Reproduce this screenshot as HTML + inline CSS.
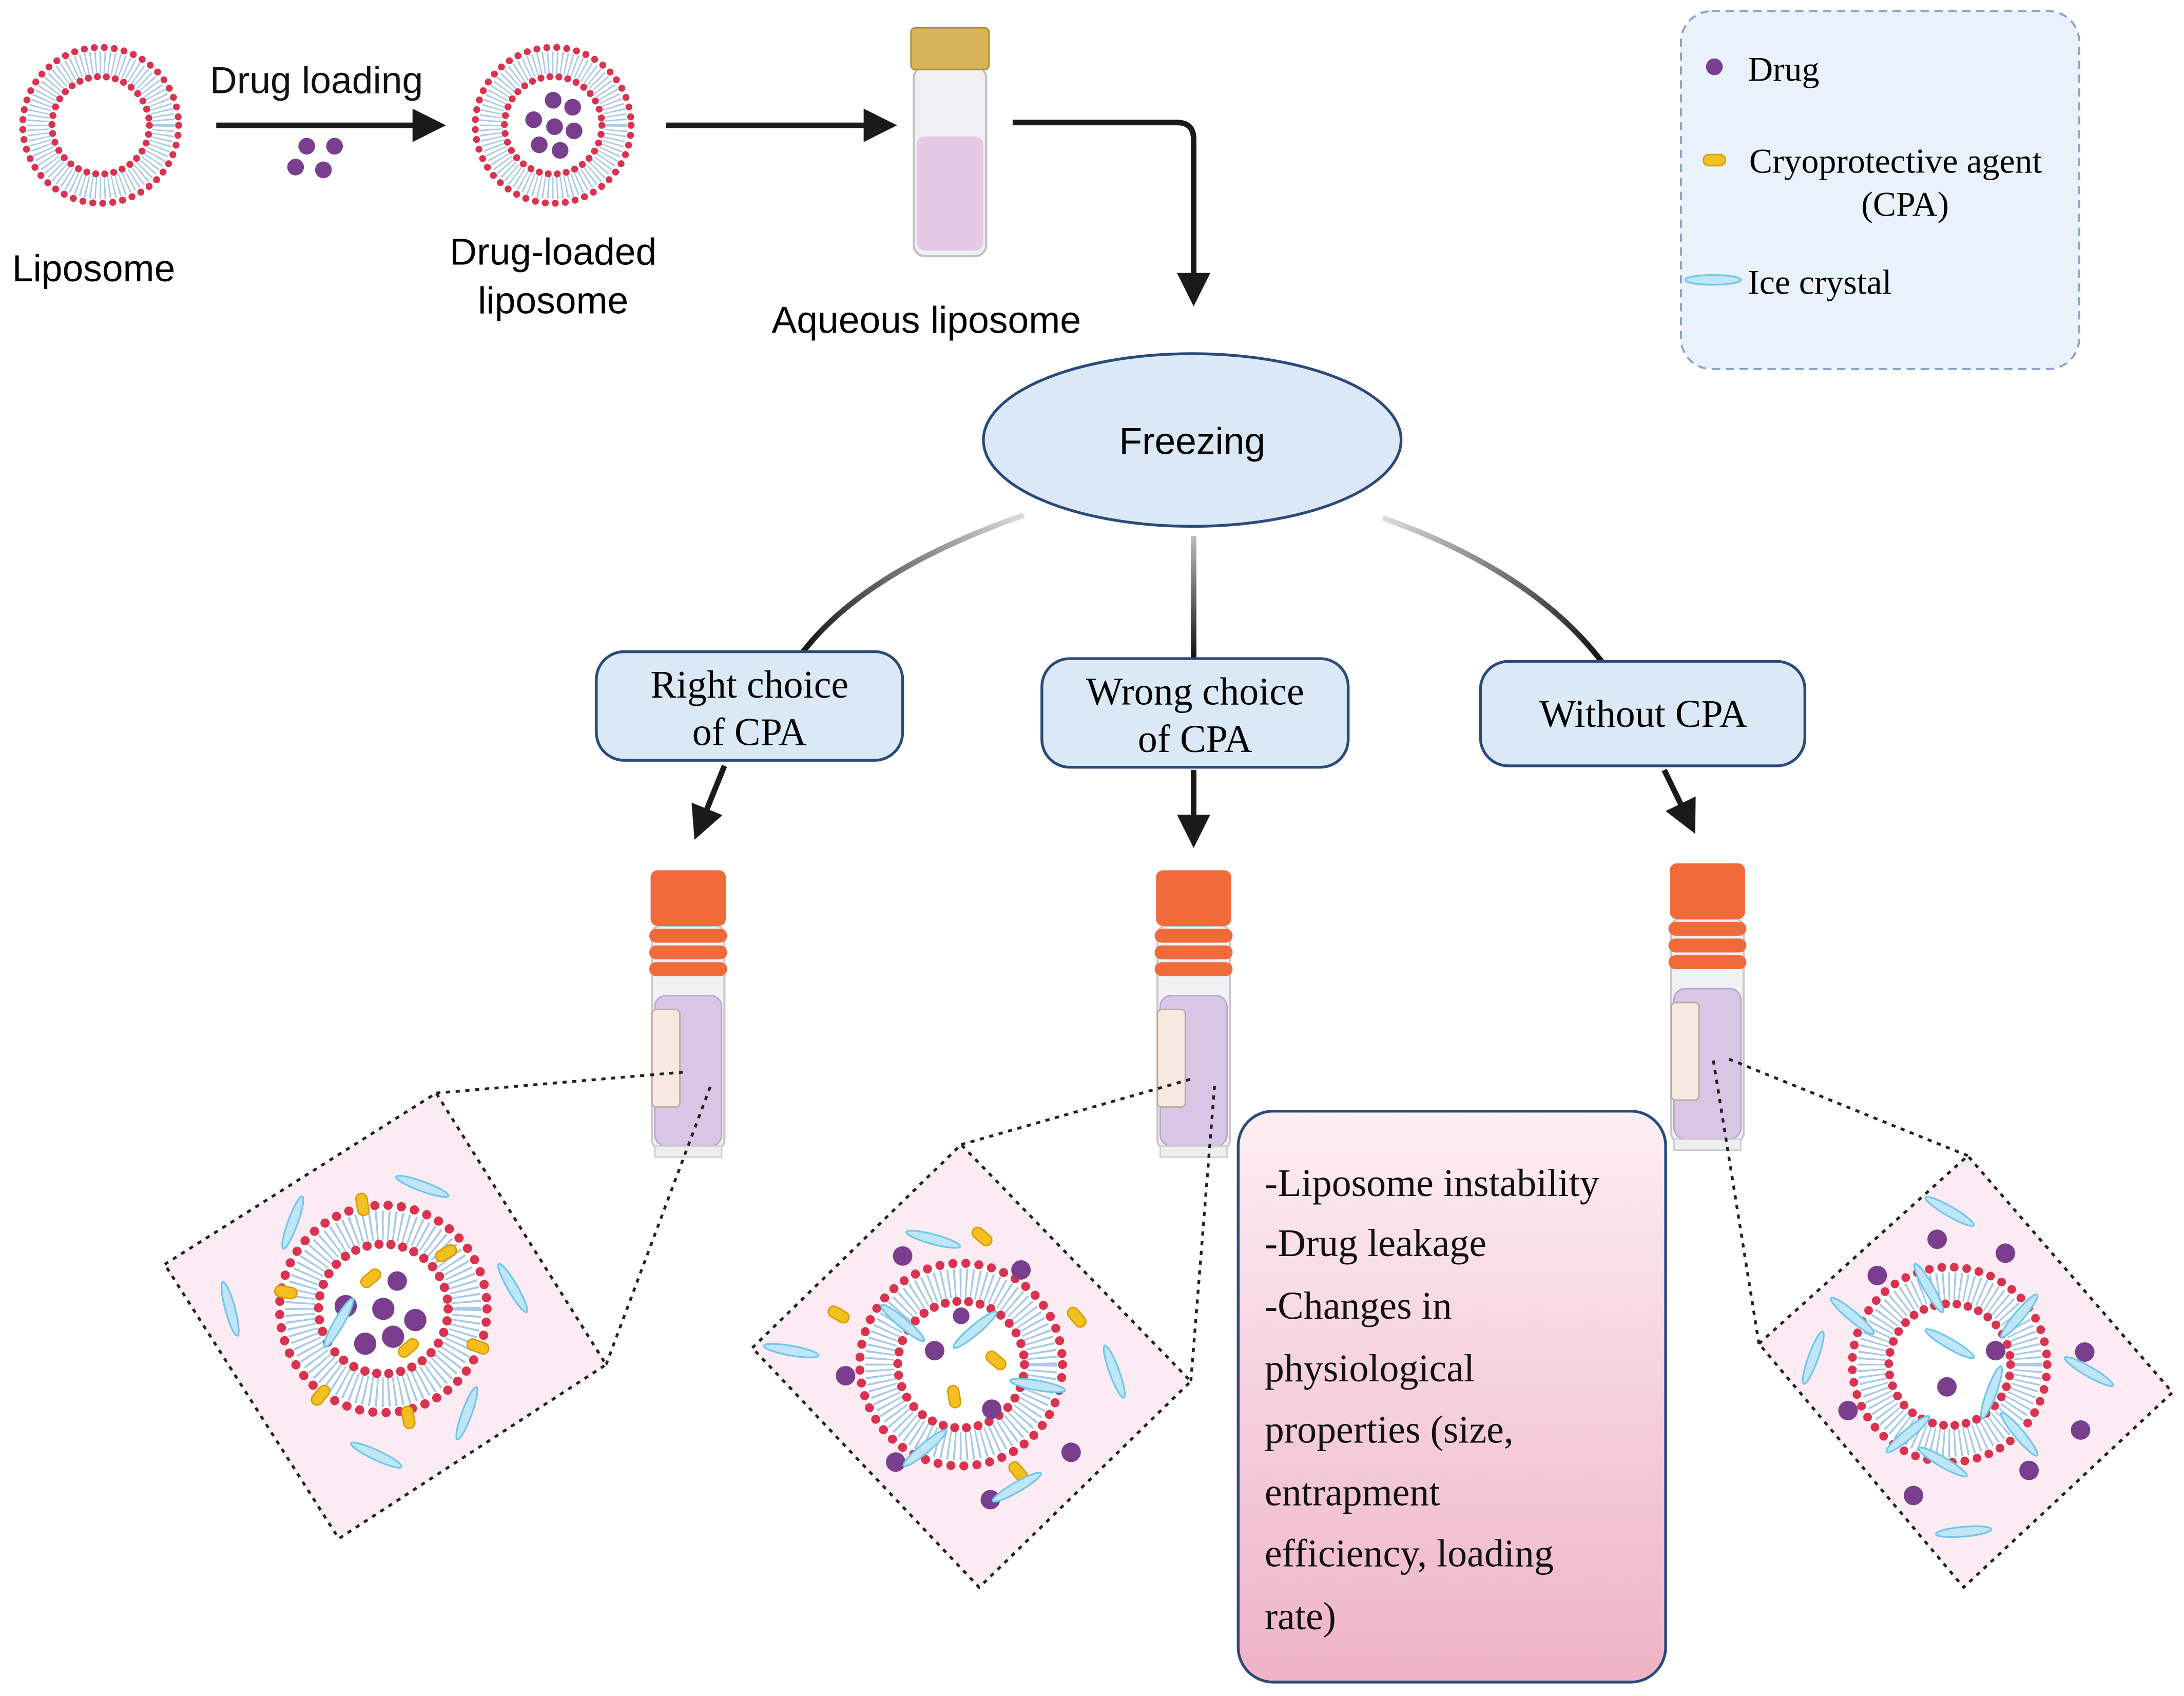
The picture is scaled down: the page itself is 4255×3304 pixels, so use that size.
<!DOCTYPE html>
<html><head><meta charset="utf-8"><style>
html,body{margin:0;padding:0;background:#fff;}
svg{display:block;}
.sans{font-family:"Liberation Sans",sans-serif;}
.serif{font-family:"Liberation Serif",serif;}
</style></head><body>
<svg width="4255" height="3304" viewBox="0 0 1568 1218" xmlns="http://www.w3.org/2000/svg">
<defs>
<marker id="ah" markerWidth="6" markerHeight="6" refX="3" refY="3" orient="auto" markerUnits="strokeWidth">
<path d="M0,0 L6,3 L0,6 z" fill="#1a1a1a"/></marker>
<g id="lip">
<circle r="56" fill="#fff"/>
<circle r="45" fill="none" stroke="#a8c8e8" stroke-width="16" stroke-dasharray="1 2.2"/>
<circle r="56" fill="none" stroke="#d9334f" stroke-width="5" stroke-dasharray="0 7.2" stroke-linecap="round"/>
<circle r="35" fill="none" stroke="#d9334f" stroke-width="5" stroke-dasharray="0 6.5" stroke-linecap="round"/>
<circle r="32" fill="#fff"/>
</g>
<g id="ice"><ellipse rx="20" ry="3.5" fill="#bfe6f7" stroke="#6cc6ec" stroke-width="1.2"/></g>
<g id="cpa"><rect x="-8" y="-4" width="16" height="8" rx="4" fill="#f3c020" stroke="#d89a00" stroke-width="1"/></g>
<g id="tube">
<rect x="-26" y="40" width="52" height="160" rx="6" fill="#f2f2f4" stroke="#c8c8cc" stroke-width="1.5"/>
<rect x="-24" y="90" width="48" height="108" rx="8" fill="#d9c6e6" stroke="#b9a4cc"/>
<rect x="-26" y="100" width="20" height="70" rx="3" fill="#f7e9e0" stroke="#b8a89c"/>
<rect x="-27" y="0" width="54" height="40" rx="5" fill="#f06a3a"/>
<rect x="-28" y="42" width="56" height="10" rx="5" fill="#f06a3a"/>
<rect x="-28" y="54" width="56" height="10" rx="5" fill="#f06a3a"/>
<rect x="-28" y="66" width="56" height="10" rx="5" fill="#f06a3a"/>
<rect x="-24" y="198" width="48" height="8" fill="#eee" stroke="#ccc"/>
</g>
<linearGradient id="gl" gradientUnits="userSpaceOnUse" x1="735" y1="370" x2="575" y2="470"><stop offset="0" stop-color="#ddd"/><stop offset="1" stop-color="#111"/></linearGradient>
<linearGradient id="gr" gradientUnits="userSpaceOnUse" x1="993" y1="372" x2="1150" y2="475"><stop offset="0" stop-color="#ddd"/><stop offset="1" stop-color="#111"/></linearGradient>
<linearGradient id="gm" gradientUnits="userSpaceOnUse" x1="0" y1="385" x2="0" y2="473"><stop offset="0" stop-color="#bbb"/><stop offset="1" stop-color="#111"/></linearGradient>
<linearGradient id="pk" x1="0" y1="0" x2="0" y2="1"><stop offset="0" stop-color="#fdeef2"/><stop offset="1" stop-color="#eeb3c7"/></linearGradient>
</defs>

<use href="#lip" x="72" y="90"/>
<text x="227" y="67" class="sans" font-size="27" text-anchor="middle" fill="#111">Drug loading</text>
<line x1="155" y1="90" x2="308" y2="90" stroke="#1a1a1a" stroke-width="4" marker-end="url(#ah)"/>
<g fill="#7a3e8e"><circle cx="220" cy="105" r="6"/><circle cx="240" cy="105" r="6"/><circle cx="212" cy="120" r="6"/><circle cx="232" cy="122" r="6"/></g>
<use href="#lip" x="397" y="90"/>
<g fill="#7a3e8e"><circle cx="397" cy="72" r="6"/><circle cx="411" cy="77" r="6"/><circle cx="383" cy="86" r="6"/><circle cx="398" cy="91" r="6"/><circle cx="412" cy="94" r="6"/><circle cx="387" cy="104" r="6"/><circle cx="402" cy="108" r="6"/></g>
<text x="67" y="202" class="sans" font-size="27" text-anchor="middle">Liposome</text>
<text x="397" y="190" class="sans" font-size="27" text-anchor="middle">Drug-loaded</text>
<text x="397" y="225" class="sans" font-size="27" text-anchor="middle">liposome</text>
<line x1="478" y1="90" x2="632" y2="90" stroke="#1a1a1a" stroke-width="4" marker-end="url(#ah)"/>
<rect x="656" y="48" width="52" height="136" rx="8" fill="#f0f0f2" stroke="#c0c0c4" stroke-width="1.5"/>
<rect x="658" y="98" width="48" height="82" rx="6" fill="#e5c8e4"/>
<rect x="654" y="20" width="56" height="30" rx="3" fill="#d7b45a" stroke="#b08a30"/>
<text x="665" y="239" class="sans" font-size="27" text-anchor="middle">Aqueous liposome</text>
<path d="M727,88 H845 Q857,88 857,100 V208" fill="none" stroke="#1a1a1a" stroke-width="4" marker-end="url(#ah)"/>

<rect x="1207" y="8" width="286" height="257" rx="22" fill="#e9f1fa" stroke="#8aa6cf" stroke-width="1.5" stroke-dasharray="6 4"/>
<circle cx="1231" cy="48" r="6" fill="#7a3e8e"/>
<text x="1255" y="58" class="serif" font-size="25">Drug</text>
<use href="#cpa" x="1231" y="115"/>
<text x="1256" y="124" class="serif" font-size="25">Cryoprotective agent</text>
<text x="1368" y="155" class="serif" font-size="25" text-anchor="middle">(CPA)</text>
<use href="#ice" x="1230" y="201"/>
<text x="1255" y="211" class="serif" font-size="25">Ice crystal</text>

<ellipse cx="856" cy="316" rx="150" ry="62" fill="#dbe9f7" stroke="#2a4a7a" stroke-width="2"/>
<text x="856" y="326" class="sans" font-size="27" text-anchor="middle">Freezing</text>
<path d="M735,370 Q620,410 575,470" fill="none" stroke="url(#gl)" stroke-width="4"/>
<line x1="857" y1="385" x2="857" y2="473" stroke="url(#gm)" stroke-width="4"/>
<path d="M993,372 Q1100,410 1150,475" fill="none" stroke="url(#gr)" stroke-width="4"/>

<g fill="#dbe9f7" stroke="#2a4a7a" stroke-width="2">
<rect x="428" y="468" width="220" height="78" rx="20"/>
<rect x="748" y="473" width="220" height="78" rx="20"/>
<rect x="1063" y="475" width="233" height="75" rx="20"/>
</g>
<g class="serif" font-size="28" text-anchor="middle">
<text x="538" y="501">Right choice</text><text x="538" y="535">of CPA</text>
<text x="858" y="506">Wrong choice</text><text x="858" y="540">of CPA</text>
<text x="1180" y="522">Without CPA</text>
</g>
<line x1="520" y1="550" x2="503" y2="592" stroke="#1a1a1a" stroke-width="4" marker-end="url(#ah)"/>
<line x1="857" y1="553" x2="857" y2="597" stroke="#1a1a1a" stroke-width="4" marker-end="url(#ah)"/>
<line x1="1195" y1="553" x2="1212" y2="588" stroke="#1a1a1a" stroke-width="4" marker-end="url(#ah)"/>

<use href="#tube" x="494" y="625"/>
<use href="#tube" x="857" y="625"/>
<use href="#tube" x="1226" y="620"/>

<g stroke="#222" stroke-width="2" stroke-dasharray="3 4" fill="none">
<line x1="313" y1="785" x2="490" y2="770"/><line x1="435" y1="980" x2="510" y2="780"/>
<line x1="690" y1="822" x2="855" y2="775"/><line x1="855" y1="992" x2="872" y2="780"/>
<line x1="1263" y1="965" x2="1230" y2="760"/><line x1="1413" y1="830" x2="1240" y2="760"/>
</g>

<g fill="#fcebf2" stroke="#222" stroke-width="2" stroke-dasharray="3 4">
<polygon points="118,908 313,785 435,980 243,1105"/>
<polygon points="540,968 690,822 855,992 703,1140"/>
<polygon points="1263,965 1413,830 1560,1000 1410,1140"/>
</g>

<use href="#lip" transform="translate(275,940) scale(1.33)"/>
<g fill="#7a3e8e"><circle cx="248" cy="938" r="8"/><circle cx="275" cy="940" r="8"/><circle cx="298" cy="948" r="8"/><circle cx="262" cy="965" r="8"/><circle cx="282" cy="960" r="8"/><circle cx="285" cy="920" r="7"/></g>
<use href="#cpa" transform="translate(260,865) rotate(80)"/><use href="#cpa" transform="translate(320,900) rotate(-30)"/>
<use href="#cpa" transform="translate(205,928) rotate(10)"/><use href="#cpa" transform="translate(343,967) rotate(20)"/>
<use href="#cpa" transform="translate(230,1002) rotate(-50)"/><use href="#cpa" transform="translate(293,1018) rotate(80)"/>
<use href="#cpa" transform="translate(266,918) rotate(-40)"/><use href="#cpa" transform="translate(293,968) rotate(-40)"/>
<use href="#ice" transform="translate(303,852) rotate(20)"/><use href="#ice" transform="translate(210,878) rotate(-70)"/>
<use href="#ice" transform="translate(165,940) rotate(75)"/><use href="#ice" transform="translate(368,925) rotate(60)"/>
<use href="#ice" transform="translate(335,1015) rotate(-70)"/><use href="#ice" transform="translate(270,1045) rotate(25)"/>
<use href="#ice" transform="translate(243,950) rotate(-60)"/>

<use href="#lip" transform="translate(690,980) scale(1.3)"/>
<g fill="#7a3e8e"><circle cx="648" cy="902" r="7"/><circle cx="733" cy="912" r="7"/><circle cx="607" cy="988" r="7"/><circle cx="671" cy="970" r="7"/><circle cx="712" cy="1012" r="7"/><circle cx="643" cy="1050" r="7"/><circle cx="769" cy="1043" r="7"/><circle cx="711" cy="1077" r="7"/><circle cx="690" cy="945" r="6"/></g>
<use href="#cpa" transform="translate(705,888) rotate(40)"/><use href="#cpa" transform="translate(602,944) rotate(30)"/>
<use href="#cpa" transform="translate(773,946) rotate(50)"/><use href="#cpa" transform="translate(715,977) rotate(40)"/>
<use href="#cpa" transform="translate(685,1003) rotate(80)"/><use href="#cpa" transform="translate(731,1057) rotate(50)"/>
<use href="#ice" transform="translate(670,890) rotate(15)"/><use href="#ice" transform="translate(568,970) rotate(10)"/>
<use href="#ice" transform="translate(648,950) rotate(40)"/><use href="#ice" transform="translate(745,995) rotate(10)"/>
<use href="#ice" transform="translate(800,985) rotate(70)"/><use href="#ice" transform="translate(664,1040) rotate(-40)"/>
<use href="#ice" transform="translate(730,1068) rotate(-30)"/><use href="#ice" transform="translate(700,955) rotate(-40)"/>

<use href="#lip" transform="translate(1400,980) scale(1.25)"/>
<g fill="#7a3e8e"><circle cx="1391" cy="890" r="7"/><circle cx="1440" cy="900" r="7"/><circle cx="1348" cy="916" r="7"/><circle cx="1433" cy="970" r="7"/><circle cx="1398" cy="996" r="7"/><circle cx="1497" cy="971" r="7"/><circle cx="1327" cy="1013" r="7"/><circle cx="1494" cy="1027" r="7"/><circle cx="1457" cy="1056" r="7"/><circle cx="1374" cy="1074" r="7"/></g>
<use href="#ice" transform="translate(1400,870) rotate(30)"/><use href="#ice" transform="translate(1302,975) rotate(-70)"/>
<use href="#ice" transform="translate(1330,945) rotate(40)"/><use href="#ice" transform="translate(1385,925) rotate(60)"/>
<use href="#ice" transform="translate(1450,945) rotate(-50)"/><use href="#ice" transform="translate(1400,965) rotate(30)"/>
<use href="#ice" transform="translate(1430,1000) rotate(-70)"/><use href="#ice" transform="translate(1370,1030) rotate(-40)"/>
<use href="#ice" transform="translate(1450,1030) rotate(50)"/><use href="#ice" transform="translate(1500,985) rotate(30)"/>
<use href="#ice" transform="translate(1410,1100) rotate(-5)"/><use href="#ice" transform="translate(1395,1050) rotate(30)"/>

<rect x="889" y="798" width="307" height="410" rx="25" fill="url(#pk)" stroke="#2a4a7a" stroke-width="2"/>
<g class="serif" font-size="28" fill="#111">
<text x="908" y="859">-Liposome instability</text>
<text x="908" y="902">-Drug leakage</text>
<text x="908" y="947">-Changes in</text>
<text x="908" y="992">physiological</text>
<text x="908" y="1036">properties (size,</text>
<text x="908" y="1081">entrapment</text>
<text x="908" y="1125">efficiency, loading</text>
<text x="908" y="1170">rate)</text>
</g>
</svg>
</body></html>
